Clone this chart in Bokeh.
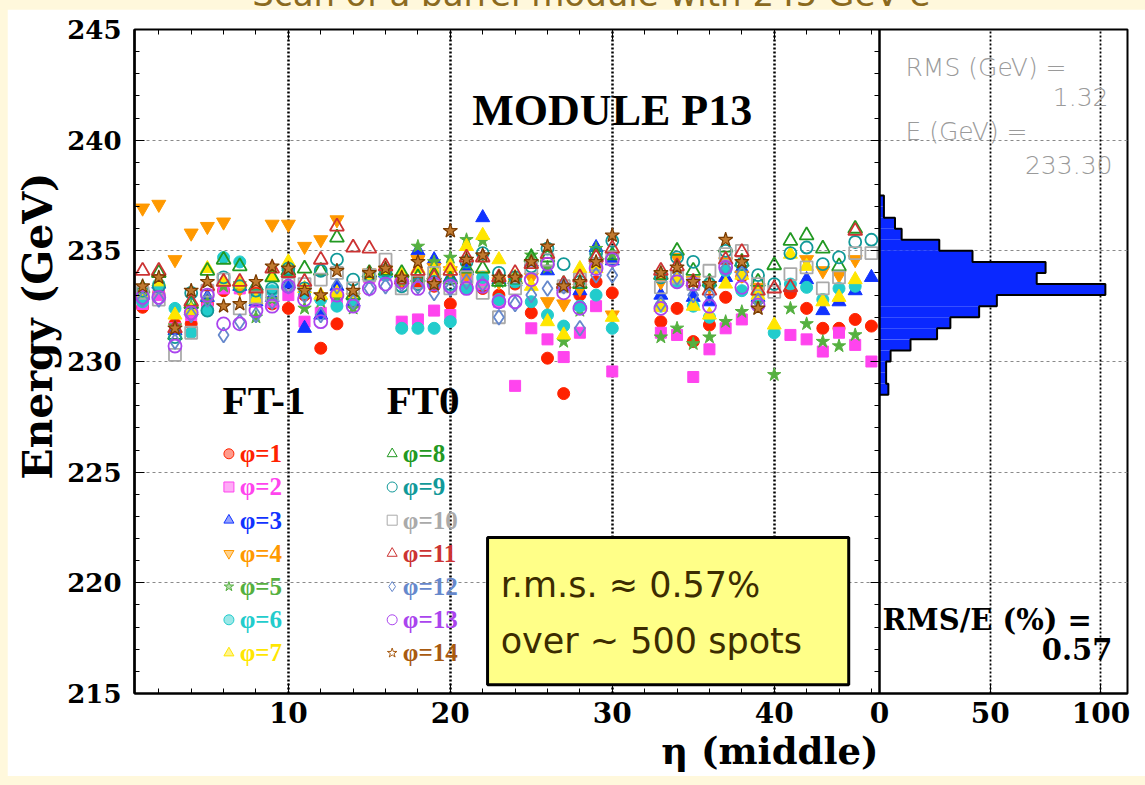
from bokeh.plotting import figure
from bokeh.layouts import column
from bokeh.models import (Range1d, LinearAxis, FixedTicker, SingleIntervalTicker,
                          Span, Label, BoxAnnotation, Grid, Div, Spacer, ColumnDataSource,
                          Title)
from bokeh.core.properties import value
from bokeh.embed import file_html
from bokeh.resources import INLINE

nan = float("nan")

# eta index of the scanned cells (middle sampling); cells 31 and 32 were not scanned
eta = list(range(1, 31)) + list(range(33, 47))

# reconstructed energy (GeV) per phi row, one value per eta cell above
phi1 = [232.45, 233.1, 231.7, 231.7, 232.6, 233.2, 233.3, 233.1, 232.6, 232.4,
        233.0, 230.6, 231.7, 232.8, 233.8, 234.0, 233.6, 233.6, 233.4, 232.6,
        233.5, 233.3, 233.0, 233.5, 232.2, 230.15, 228.55, 233.0, 233.6, 233.1,
        231.8, 232.4, 230.9, 231.65, 232.9, 233.85, 233.1, nan, 233.1, 232.4,
        231.5, 231.5, 231.9, 231.6]
phi2 = [232.6, 233.0, 231.5, 232.1, 232.4, 233.3, 233.3, 232.7, 232.7, 233.0,
        231.8, 232.2, 232.7, 232.7, 233.8, 233.9, 231.8, 231.9, 232.3, 232.1,
        233.8, 233.5, 232.7, 228.9, 231.5, 231.0, 230.2, 231.3, 232.5, 229.55,
        231.3, 231.2, 229.3, 230.55, 231.5, 231.9, 232.9, nan, 231.2, 231.0,
        230.45, 231.3, 230.75, 230.0]
phi3 = [233.0, 233.5, 231.4, 232.3, 232.9, 233.6, 233.4, 232.7, 232.9, 233.5,
        231.5, 232.1, 233.4, 232.7, 233.9, 234.0, 233.8, 235.0, 234.6, 233.8,
        234.1, 236.5, 233.7, 233.6, 234.5, 234.1, 233.4, 233.2, 235.15, 234.55,
        233.0, 233.8, 232.9, 232.7, 233.8, 234.2, 232.9, nan, nan, 233.7,
        232.3, 232.7, 233.2, 233.8]
phi4 = [236.93, 237.1, 234.6, 235.8, 236.1, 236.3, 233.3, 232.9, 236.2, 236.2,
        235.2, 235.5, 236.4, 232.9, 234.0, 234.1, 233.7, 234.6, 234.25, 234.1,
        233.9, 233.9, 233.6, 233.7, 233.8, 232.7, 232.6, 233.3, 234.25, 232.1,
        233.6, 234.7, 233.65, 233.4, 234.5, 233.9, 233.35, nan, nan, 234.6,
        234.1, 233.9, 234.6, nan]
phi5 = [233.0, 233.3, 231.6, 232.5, 232.7, 233.4, 233.5, 232.0, 232.8, 234.0,
        232.4, 232.7, 232.9, 232.4, 233.9, 234.0, 233.6, 235.2, 234.5, 234.7,
        235.5, 235.45, 233.6, 233.6, 234.8, 234.25, 230.9, 232.3, 235.1, 234.85,
        231.1, 231.5, 230.8, 231.1, 231.8, 232.25, 232.6, 229.4, 232.4, 231.7,
        230.9, 230.7, 231.2, nan]
phi6 = [232.7, 233.5, 232.4, 231.3, 232.3, 234.7, 234.5, 233.0, 233.2, 234.1,
        233.1, 232.8, 232.5, 232.8, 233.8, 233.9, 231.5, 231.5, 231.5, 231.8,
        233.3, 233.8, 232.8, 233.6, 232.7, 232.1, 231.6, 232.5, 233.0, 231.5,
        232.5, 233.6, 232.5, 232.0, 234.1, 233.2, 233.0, 231.3, 233.5, 233.35,
        232.8, 233.3, 233.4, nan]
phi7 = [233.1, 233.6, 232.1, 232.3, 234.2, 233.6, 233.5, 232.8, 233.8, 234.5,
        233.3, 233.0, 233.1, 233.0, 233.9, 234.1, 233.9, 234.2, 234.1, 234.3,
        235.2, 235.7, 234.6, 233.8, 233.4, 231.8, 231.2, 234.2, 234.2, 232.0,
        232.45, 233.7, 232.5, 232.1, 233.5, 233.9, 233.0, 231.65, 234.85, 234.3,
        232.7, 232.9, 233.7, nan]
phi8 = [233.3, 234.0, 231.2, 232.6, 234.1, 234.6, 234.3, 233.4, 233.8, 234.1,
        234.2, 234.1, 235.6, 233.0, 234.0, 234.1, 234.0, 233.8, 233.9, 233.7,
        234.2, 234.2, 233.6, 233.7, 234.7, 234.7, 233.5, 233.5, 234.8, 234.8,
        233.9, 235.0, 234.1, 233.6, 235.15, 234.5, 233.6, 234.35, 235.45, 235.7,
        235.1, 234.3, 236.0, nan]
phi9 = [233.2, 233.4, 231.1, 233.1, 232.3, 233.8, 233.4, 233.2, 233.3, 234.2,
        233.3, 234.1, 234.6, 233.7, 233.9, 234.1, 233.4, 233.5, 233.6, 233.5,
        234.5, 234.9, 234.0, 233.8, 234.3, 235.1, 234.4, 233.6, 234.9, 235.45,
        233.8, 234.7, 234.5, 233.5, 235.0, 234.4, 233.9, 233.5, 234.9, 235.15,
        234.4, 234.7, 235.4, 235.5]
phi10 = [233.1, 232.8, 230.3, 231.3, 233.2, 233.7, 232.4, 232.9, 233.0, 233.5,
         233.5, 233.7, 234.0, 233.3, 233.9, 234.6, 233.3, 233.6, 234.0, 233.3,
         233.8, 233.1, 232.0, 233.3, 234.25, 234.6, 233.4, 233.7, 234.4, 234.7,
         233.35, 233.8, 233.5, 234.1, 234.85, 235.0, 233.5, 233.15, 233.95, 234.25,
         233.3, 233.8, 234.9, 234.9]
phi11 = [234.1, 234.1, 231.5, 232.7, 233.4, 233.6, 233.6, 233.3, 234.2, 234.0,
         233.6, 234.6, 236.1, 235.15, 235.1, 234.3, 233.7, 234.1, 233.8, 234.1,
         234.7, 234.7, 233.8, 234.0, 234.4, 234.85, 233.5, 233.8, 234.7, 235.1,
         234.1, 234.3, 233.6, 233.2, 234.6, 234.95, 233.2, 233.3, 233.35, nan,
         nan, nan, 235.9, nan]
phi12 = [232.8, 232.8, 230.9, 232.1, 232.8, 231.2, 231.8, 232.1, 232.7, 233.4,
         233.0, 232.1, 233.4, 232.7, 233.3, 233.4, 233.5, 233.4, 233.1, 233.3,
         233.6, 233.5, 232.0, 232.6, 233.0, 233.3, 233.4, 231.5, 233.9, 233.9,
         232.6, 233.8, 233.0, 233.0, 234.2, 233.95, 232.75, nan, nan, nan,
         nan, nan, nan, nan]
phi13 = [232.9, 232.9, 230.7, 232.2, 233.0, 231.7, 231.7, 232.3, 232.5, 233.4,
         232.8, 231.8, 233.0, 232.5, 233.3, 233.5, 233.6, 233.3, 233.5, 233.4,
         233.3, 233.4, 232.7, 232.7, 233.7, 234.4, 233.1, 232.4, 234.2, 234.6,
         232.4, 233.6, 233.5, 232.5, 234.25, 233.35, 232.55, nan, nan, nan,
         nan, nan, nan, nan]
phi14 = [233.4, 233.8, 231.5, 233.2, 233.6, 232.5, 232.6, 233.6, 234.3, 234.2,
         233.2, 233.0, 234.1, 233.2, 234.0, 234.2, 233.8, 234.5, 233.5, 235.9,
         234.6, 234.8, 233.8, 233.8, 234.5, 235.2, 233.4, 233.6, 234.5, 235.7,
         234.0, 234.25, 233.6, 233.5, 235.5, 234.5, 232.4, nan, nan, nan,
         nan, nan, nan, nan]

# energy distribution of all spots (0.5 GeV bins, lower edges)
hist_low = [228.5, 229.0, 229.5, 230.0, 230.5, 231.0, 231.5, 232.0, 232.5,
            233.0, 233.5, 234.0, 234.5, 235.0, 235.5, 236.0, 236.5, 237.0]
hist_count = [4, 3, 3, 5, 14, 26, 32, 45, 53, 102, 71, 75, 42, 27, 10, 7, 2, 2]
hist_bin = 0.5
hist_ticks = [0, 50, 100]

rms_gev = "1.32"
mean_gev = "233.30"
rms_over_e = "0.57"

# label, values, marker, colour, filled, size
series = [
    ("φ=1", phi1, "circle", "#ff2200", True, 12),
    ("φ=2", phi2, "square", "#ff44ee", True, 11),
    ("φ=3", phi3, "triangle", "#1133ff", True, 14),
    ("φ=4", phi4, "inverted_triangle", "#ff9900", True, 14),
    ("φ=5", phi5, "star", "#55b040", True, 14),
    ("φ=6", phi6, "circle", "#22cccc", True, 12),
    ("φ=7", phi7, "triangle", "#ffe600", True, 14),
    ("φ=8", phi8, "triangle", "#229922", False, 14),
    ("φ=9", phi9, "circle", "#119999", False, 12),
    ("φ=10", phi10, "square", "#aaaaaa", False, 12),
    ("φ=11", phi11, "triangle", "#cc3333", False, 14),
    ("φ=12", phi12, "diamond", "#6688cc", False, 15),
    ("φ=13", phi13, "circle", "#aa44ee", False, 13),
    ("φ=14", phi14, "star", "#a85a10", True, 15),
]

CREAM = "#fff8dc"
HIST_BLUE = "#0a28ff"

# panel geometry: main panel covers eta 0.5-46.5, histogram panel counts 0-112
ETA_LO, ETA_HI = 0.5, 46.5
HIST_HI = 112.0
MAIN_PX, HIST_PX = 745.0, 248.0
main_end = ETA_HI + (ETA_HI - ETA_LO) * HIST_PX / MAIN_PX
hist_start = -HIST_HI * MAIN_PX / HIST_PX
eta_per_count = (main_end - ETA_HI) / HIST_HI

p = figure(width=1138, height=767, output_backend="svg", toolbar_location=None,
           x_range=Range1d(ETA_LO, main_end), y_range=Range1d(215, 245),
           min_border_left=127, min_border_right=18, min_border_top=20,
           min_border_bottom=83, background_fill_color="white",
           border_fill_color="white", outline_line_color="black",
           outline_line_width=2, margin=(0, 0, 0, 7))
p.extra_x_ranges = {"hist": Range1d(hist_start, HIST_HI)}

# grids
p.ygrid.ticker = SingleIntervalTicker(interval=5)
p.ygrid.grid_line_color = "#8a8a8a"
p.ygrid.grid_line_dash = "3 3"
p.ygrid.grid_line_width = 1
p.xgrid.ticker = FixedTicker(ticks=[10, 20, 30, 40])
p.xgrid.grid_line_color = "black"
p.xgrid.grid_line_dash = "2 2"
p.xgrid.grid_line_width = 2.5
p.add_layout(Grid(dimension=0, ticker=FixedTicker(ticks=hist_ticks[1:]), x_range_name="hist",
                  grid_line_color="black", grid_line_dash="2 2", grid_line_width=1.8))

# bottom axis carries the eta numbers and, on the right, the histogram counts
hist_tick_pos = [ETA_HI + c * eta_per_count for c in hist_ticks]
xa = p.xaxis[0]
xa.ticker = FixedTicker(ticks=[10, 20, 30, 40] + hist_tick_pos,
                        minor_ticks=list(range(2, 47, 2)))
xa.major_label_overrides = {pos: str(c) for pos, c in zip(hist_tick_pos, hist_ticks)}
xa.major_tick_in, xa.major_tick_out = 10, 0
xa.minor_tick_in, xa.minor_tick_out = 5, 0
xa.axis_line_width = 2
xa.major_label_standoff = 8
xa.major_label_text_font = "DejaVu Serif"
xa.major_label_text_font_style = "bold"
xa.major_label_text_font_size = "28px"
xa.major_label_text_color = "black"

ya = p.yaxis[0]
ya.ticker = SingleIntervalTicker(interval=5, num_minor_ticks=5)
ya.major_tick_in, ya.major_tick_out = 10, 0
ya.minor_tick_in, ya.minor_tick_out = 5, 0
ya.axis_line_width = 2.5
ya.major_label_standoff = 13
ya.major_label_text_font = "DejaVu Serif"
ya.major_label_text_font_style = "bold"
ya.major_label_text_font_size = "26px"
ya.major_label_text_color = "black"

# axis titles sit toward the end of their axes
p.add_layout(Title(text="Energy (GeV)", align="right", offset=143, standoff=6,
                   text_font="DejaVu Serif", text_font_style="bold",
                   text_font_size="41px", text_color="black"), "left")
p.add_layout(Title(text="η (middle)", align="right", offset=249, standoff=3,
                   text_font="DejaVu Serif", text_font_style="bold",
                   text_font_size="37px", text_color="black"), "below")

top_axis = LinearAxis(ticker=FixedTicker(ticks=[10, 20, 30, 40],
                                         minor_ticks=list(range(2, 47, 2))),
                      major_tick_in=10, major_tick_out=0,
                      minor_tick_in=5, minor_tick_out=0, major_label_text_font_size="0px",
                      major_label_standoff=0, axis_line_color=None)
p.add_layout(top_axis, "above")
sep_axis = LinearAxis(fixed_location=ETA_HI,
                      ticker=SingleIntervalTicker(interval=5, num_minor_ticks=5),
                      major_tick_in=9, major_tick_out=0, minor_tick_in=5, minor_tick_out=0,
                      major_label_text_font_size="0px", major_label_standoff=0,
                      axis_line_color=None)
p.add_layout(sep_axis, "right")

# energy histogram, drawn sideways in the right panel
hist_src = ColumnDataSource(dict(lo=hist_low, hi=[v + hist_bin for v in hist_low],
                                 count=hist_count))
p.quad(left=0, right="count", bottom="lo", top="hi", source=hist_src,
       x_range_name="hist", fill_color=HIST_BLUE, line_color=None)
outline_x, outline_y = [0], [hist_low[0]]
for lo, c in zip(hist_low, hist_count):
    outline_x += [c, c]
    outline_y += [lo, lo + hist_bin]
outline_x.append(0)
outline_y.append(hist_low[-1] + hist_bin)
p.line(outline_x, outline_y, x_range_name="hist", line_color="black", line_width=2)

# scan points
for label, vals, marker, color, filled, size in series:
    if label == "φ=14":
        p.scatter(eta, vals, marker=marker, size=size, fill_color="#c07a30",
                  line_color="#7a3c00", line_width=1.2)
    elif filled:
        p.scatter(eta, vals, marker=marker, size=size, fill_color=color,
                  line_color=color, line_width=1)
    else:
        p.scatter(eta, vals, marker=marker, size=size, fill_color=None,
                  line_color=color, line_width=1.8)

p.add_layout(Span(location=ETA_HI, dimension="height", line_color="black", line_width=2.5))

# legend
LEG_TOP, LEG_STEP = 225.83, 1.5
leg_cols = [(6.33, 7.0), (16.41, 17.07)]
for i, (label, vals, marker, color, filled, size) in enumerate(series):
    col, row = divmod(i, 7)
    mx, tx = leg_cols[col]
    y = LEG_TOP - LEG_STEP * row
    if filled and label != "φ=14":
        p.scatter([mx], [y], marker=marker, size=10, fill_color=color, fill_alpha=0.45,
                  line_color=color, line_width=1)
    else:
        p.scatter([mx], [y], marker=marker, size=10, fill_color=None,
                  line_color=color, line_width=1)
    p.text([tx], [y], text=[label], text_color=color, text_font=value("Liberation Serif"),
           text_font_style="bold", text_font_size="25px", text_baseline="middle")

for txt, x in (("FT-1", 5.94), ("FT0", 16.07)):
    p.add_layout(Label(x=x, y=228.28, text=txt, text_font="Liberation Serif",
                       text_font_style="bold", text_font_size="41px",
                       text_baseline="middle", text_color="black"))

p.add_layout(Label(x=30.0, y=241.34, text="MODULE P13", text_font="Liberation Serif",
                   text_font_style="bold", text_font_size="44px", text_align="center",
                   text_baseline="middle", text_color="black"))

# summary box
p.add_layout(BoxAnnotation(left=22.3, right=44.6, top=222.05, bottom=215.4,
                           fill_color="#ffff88", fill_alpha=1, line_color="black",
                           line_width=3, line_alpha=1))
for txt, y in (("r.m.s. ≈ " + rms_over_e + "%", 219.92), ("over ~ 500 spots", 217.35)):
    p.add_layout(Label(x=23.11, y=y, text=txt, text_font="DejaVu Sans",
                       text_font_size="35px", text_baseline="middle", text_color="#3c2c00"))

# histogram statistics
stat_font = "DejaVu Sans Light, DejaVu Sans"
for txt, x, y, align in (("RMS (GeV) =", 11.74, 243.28, "left"),
                         (rms_gev, 103.4, 241.93, "right"),
                         ("E (GeV) =", 11.74, 240.39, "left"),
                         (mean_gev, 105.2, 238.90, "right")):
    p.add_layout(Label(x=x, y=y, x_range_name="hist", text=txt, text_font=stat_font,
                       text_font_size="25px", text_align=align, text_baseline="middle",
                       text_color="#9a9a9a"))
p.add_layout(Label(x=1.36, y=218.30, x_range_name="hist", text="RMS/E (%) =",
                   text_font="DejaVu Serif", text_font_style="bold", text_font_size="29px",
                   text_baseline="middle", text_color="black"))
p.add_layout(Label(x=105.2, y=217.03, x_range_name="hist", text=rms_over_e,
                   text_font="DejaVu Serif", text_font_style="bold", text_font_size="29px",
                   text_align="right", text_baseline="middle", text_color="black"))

title_div = Div(
    text=('<div style="position:relative; top:-23px; line-height:34px; font-size:34px; '
          'font-family:\'DejaVu Sans\'; color:#8b6a1e; white-space:nowrap; '
          'width:1145px; padding-left:50px; box-sizing:border-box; text-align:center;">'
          'Scan of a barrel module with 245 GeV e-</div>'),
    width=1145, height=9, margin=0, styles={"overflow": "hidden"})

layout = column(title_div, p, Spacer(width=1145, height=9, margin=0),
                width=1145, height=785, spacing=0,
                styles={"background-color": CREAM})

open("out.html", "w").write(file_html(layout, INLINE))
